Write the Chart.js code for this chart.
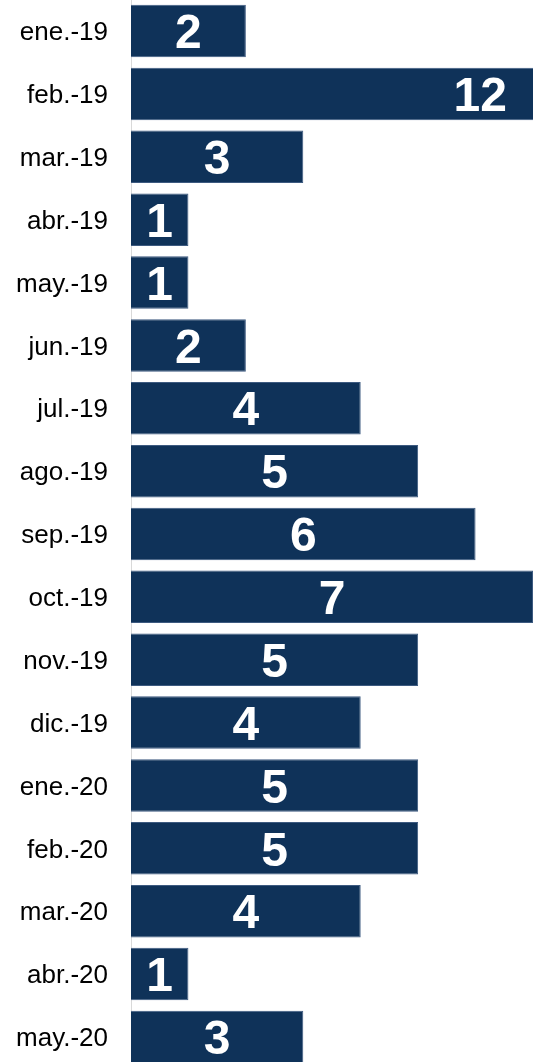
<!DOCTYPE html>
<html>
<head>
<meta charset="utf-8">
<script src="https://cdn.jsdelivr.net/npm/chart.js@4"></script>
<style>
  html, body { margin: 0; padding: 0; background: #ffffff; overflow: hidden; }
  body { width: 533px; height: 1062px; position: relative; }
  #wrap { position: absolute; left: 0; top: -39px; width: 533px; height: 1146px; }
</style>
</head>
<body>
<div id="wrap"><canvas id="c"></canvas></div>
<script>
const categories = ['ene.-19','feb.-19','mar.-19','abr.-19','may.-19','jun.-19','jul.-19','ago.-19','sep.-19','oct.-19','nov.-19','dic.-19','ene.-20','feb.-20','mar.-20','abr.-20','may.-20'];
const values = [2, 12, 3, 1, 1, 2, 4, 5, 6, 7, 5, 4, 5, 5, 4, 1, 3];
const axisMax = 7;

const barLabels = {
  id: 'barLabels',
  afterDatasetsDraw(chart) {
    const ctx = chart.ctx;
    const area = chart.chartArea;
    const meta = chart.getDatasetMeta(0);
    ctx.save();
    ctx.fillStyle = '#ffffff';
    ctx.font = 'bold 48px "Liberation Sans", Arial, sans-serif';
    ctx.textBaseline = 'middle';
    meta.data.forEach((bar, i) => {
      const v = values[i];
      const right = Math.min(bar.x, area.right);
      let x, align;
      if (v > axisMax) {
        x = area.right - 26; align = 'right';
      } else {
        x = (bar.base + right) / 2; align = 'center';
      }
      ctx.textAlign = align;
      ctx.fillText(String(v), x, bar.y + 4);
    });
    ctx.restore();
  }
};

new Chart(document.getElementById('c'), {
  type: 'bar',
  data: {
    labels: categories,
    datasets: [{
      data: values,
      backgroundColor: '#0f3259',
      borderColor: '#3d5a80',
      borderWidth: 1,
      borderSkipped: 'start',
      barPercentage: 0.835,
      categoryPercentage: 1.0
    }]
  },
  options: {
    indexAxis: 'y',
    responsive: true,
    maintainAspectRatio: false,
    animation: false,
    layout: { padding: 0 },
    plugins: { legend: { display: false }, tooltip: { enabled: false } },
    scales: {
      x: {
        display: false,
        min: 0,
        max: axisMax
      },
      y: {
        grid: { display: false, drawTicks: false },
        border: { display: true, color: '#d9d9d9', width: 1 },
        ticks: {
          color: '#000000',
          padding: 23,
          labelOffset: 2,
          font: { family: '"Liberation Sans", Arial, sans-serif', size: 26 }
        },
        afterFit(scale) { scale.width = 131; }
      }
    }
  },
  plugins: [barLabels]
});
</script>
</body>
</html>
